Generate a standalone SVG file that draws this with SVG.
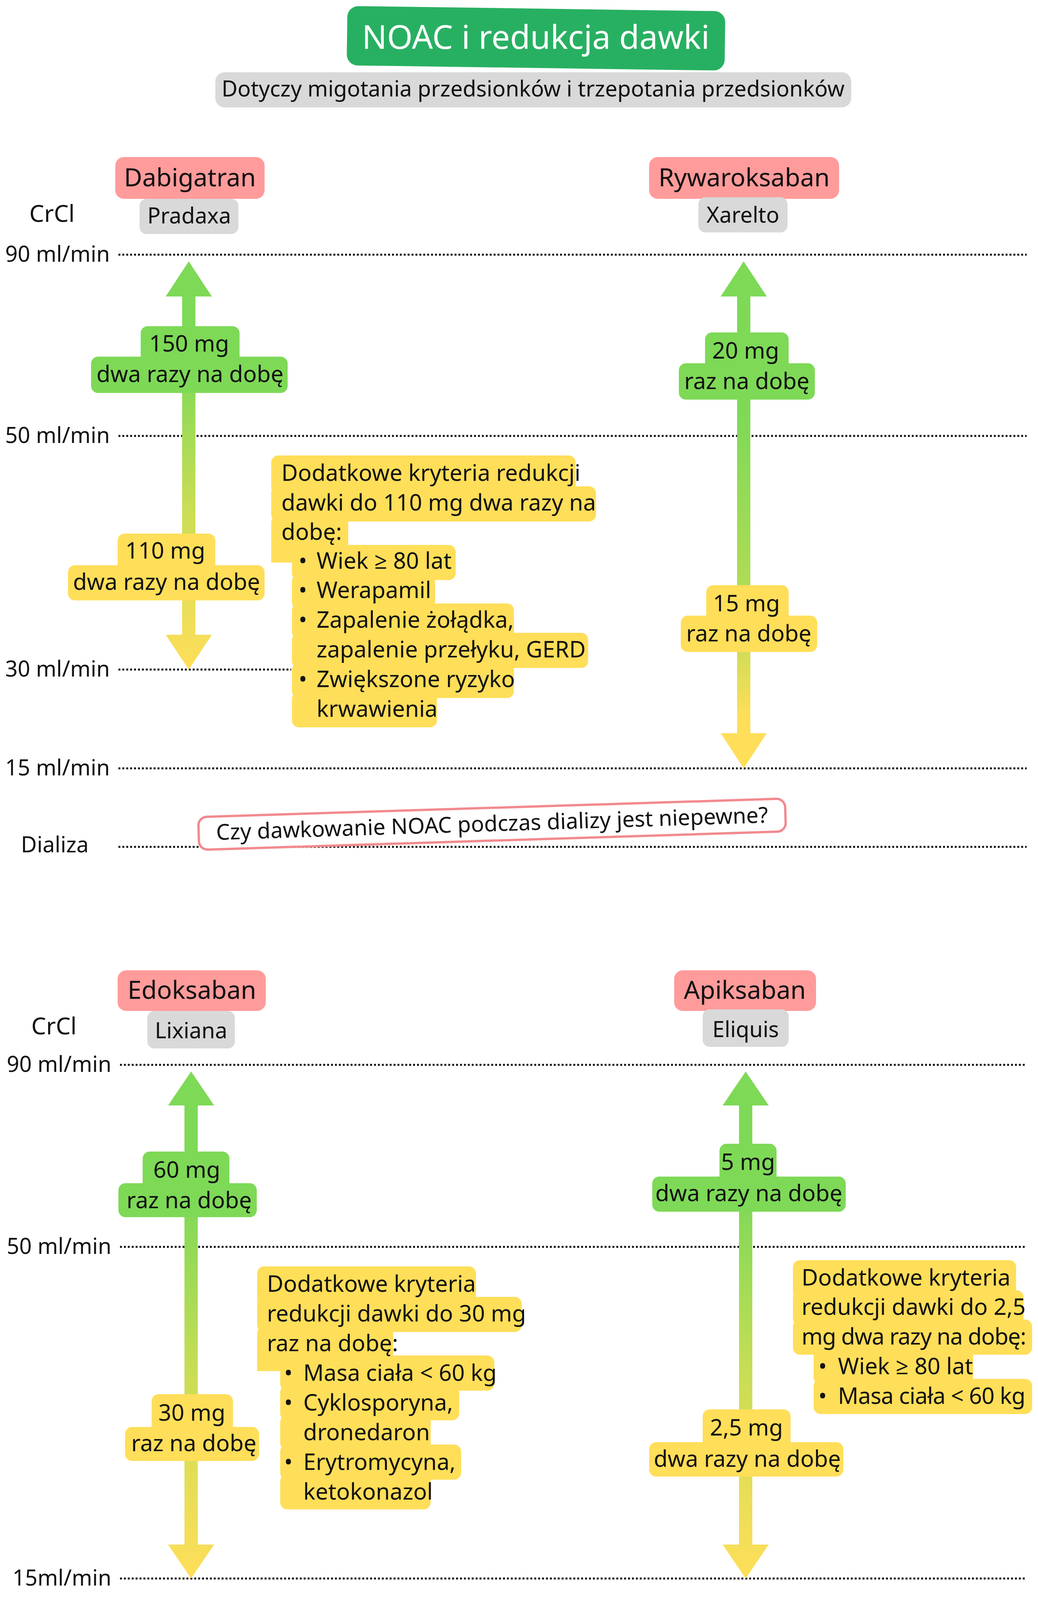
<svg xmlns="http://www.w3.org/2000/svg" width="2656" height="4375" viewBox="0 0 2656 4375">
<defs>
<style>
text{font-family:"Noto Sans","Open Sans",sans-serif;fill:#111}
.t{font-size:58px}
.lab{font-size:56px;text-anchor:end}
.c{text-anchor:middle}
.dot{stroke:#111;stroke-width:5;stroke-dasharray:5 5;fill:none}
.g{fill:#7ED957}.y{fill:#FFDE59}.p{fill:#FF9B9B}.gr{fill:#D9D9D9}
</style>
<linearGradient id="ar1" x1="0" y1="0" x2="0" y2="1"><stop offset="0.25" stop-color="#7ED957"/><stop offset="0.6" stop-color="#C9DD55"/><stop offset="1" stop-color="#FFDE59"/></linearGradient>
<linearGradient id="ar2" x1="0" y1="0" x2="0" y2="1"><stop offset="0.3" stop-color="#7ED957"/><stop offset="0.7" stop-color="#B8DC56"/><stop offset="0.9" stop-color="#FFDE59"/></linearGradient>
</defs>
<rect width="2656" height="4375" fill="#fff"/>
<g id="title"><rect x="888" y="22" width="967" height="152" rx="28" fill="#28B062" transform="rotate(0.8 1371 98)"/><text x="1371" y="125" class="c" style="font-size:84px;fill:#fff">NOAC i redukcja dawki</text></g>
<g id="subtitle"><rect x="551" y="185" width="1627" height="90" rx="24" class="gr"/><text x="1364" y="247" class="c" style="font-size:56px">Dotyczy migotania przedsionków i trzepotania przedsionków</text></g>
<g id="axes">
<path class="dot" d="M303 652H2627M303 1116H2627M303 1714H745M303 1967H2627M303 2168H2627M307 2726H2627M307 3192H2627M307 4041H2627M307 4233H2627"/>
<text x="75" y="568" style="font-size:60px">CrCl</text>
<text x="281" y="670" class="lab">90 ml/min</text><text x="281" y="1134" class="lab">50 ml/min</text><text x="281" y="1732" class="lab">30 ml/min</text><text x="281" y="1985" class="lab">15 ml/min</text><text x="227" y="2182" class="lab">Dializa</text>
<text x="80" y="2648" style="font-size:60px">CrCl</text>
<text x="285" y="2744" class="lab">90 ml/min</text><text x="285" y="3210" class="lab">50 ml/min</text><text x="285" y="4059" class="lab">15ml/min</text><text x="231" y="4250" class="lab">Dializa</text>
</g>
<g id="connectors">
<path fill="url(#ar1)" d="M483 669L542 759H500V1625H542L483 1714L424 1625H466V759H424Z"/>
<path fill="url(#ar2)" d="M1903 669L1962 759H1920V1877H1962L1903 1967L1844 1877H1886V759H1844Z"/>
<path fill="url(#ar1)" d="M489 2743L548 2830H506V3954H548L489 4041L430 3954H472V2830H430Z"/>
<path fill="url(#ar1)" d="M1908 2743L1967 2830H1925V3954H1967L1908 4041L1849 3954H1891V2830H1849Z"/>
</g>
<g id="dabigatran"><rect x="295" y="402" width="382" height="107" rx="22" class="p"/><text x="486" y="477" class="c" style="font-size:64px">Dabigatran</text>
<rect x="357" y="509" width="253" height="90" rx="18" class="gr"/><text x="484" y="572" class="c" style="font-size:56px">Pradaxa</text></g>
<g id="rywaroksaban"><rect x="1661" y="402" width="486" height="107" rx="22" class="p"/><text x="1904" y="477" class="c" style="font-size:64px">Rywaroksaban</text>
<rect x="1787" y="505" width="228" height="90" rx="18" class="gr"/><text x="1901" y="570" class="c" style="font-size:56px">Xarelto</text></g>
<g id="dab150"><rect x="360" y="835" width="253" height="100" rx="18" class="g"/><rect x="233" y="913" width="503" height="93" rx="18" class="g"/><text x="484" y="900" class="t c">150 mg</text><text x="486" y="978" class="t c">dwa razy na dobę</text></g>
<g id="dab110"><rect x="301" y="1366" width="250" height="100" rx="18" class="y"/><rect x="174" y="1447" width="503" height="90" rx="18" class="y"/><text x="423" y="1430" class="t c">110 mg</text><text x="426" y="1510" class="t c">dwa razy na dobę</text></g>
<g id="dabcrit" class="y">
<rect x="694" y="1166" width="779" height="100" rx="18"/><rect x="694" y="1245" width="831" height="90" rx="18"/><rect x="694" y="1320" width="197" height="90" rx="18"/>
<rect x="747" y="1395" width="419" height="90" rx="18"/><rect x="694" y="1380" width="120" height="60"/><rect x="747" y="1470" width="366" height="90" rx="18"/><rect x="747" y="1545" width="568" height="90" rx="18"/><rect x="747" y="1620" width="758" height="90" rx="18"/><rect x="747" y="1697" width="568" height="90" rx="18"/><rect x="747" y="1772" width="371" height="90" rx="18"/>
<text x="720" y="1231" class="t">Dodatkowe kryteria redukcji</text><text x="720" y="1307" class="t">dawki do 110 mg dwa razy na</text><text x="720" y="1382" class="t">dobę:</text>
<text x="764" y="1456" class="t">•</text><text x="810" y="1456" class="t">Wiek ≥ 80 lat</text>
<text x="764" y="1531" class="t">•</text><text x="810" y="1531" class="t">Werapamil</text>
<text x="764" y="1607" class="t">•</text><text x="810" y="1607" class="t">Zapalenie żołądka,</text>
<text x="810" y="1683" class="t">zapalenie przełyku, GERD</text>
<text x="764" y="1759" class="t">•</text><text x="810" y="1759" class="t">Zwiększone ryzyko</text>
<text x="810" y="1835" class="t">krwawienia</text></g>
<g id="ryw20"><rect x="1804" y="851" width="214" height="100" rx="18" class="g"/><rect x="1737" y="930" width="348" height="93" rx="18" class="g"/><text x="1908" y="918" class="t c">20 mg</text><text x="1911" y="996" class="t c">raz na dobę</text></g>
<g id="ryw15"><rect x="1807" y="1498" width="211" height="100" rx="18" class="y"/><rect x="1742" y="1576" width="349" height="93" rx="18" class="y"/><text x="1910" y="1565" class="t c">15 mg</text><text x="1916" y="1642" class="t c">raz na dobę</text></g>
<g id="dial1" transform="rotate(-1.8 1259 2108)"><rect x="508" y="2068" width="1502" height="84" rx="22" fill="#fff" stroke="#F28A8F" stroke-width="6"/><text x="1259" y="2128" class="c" style="font-size:56px">Czy dawkowanie NOAC podczas dializy jest niepewne?</text></g>
<g id="edoksaban"><rect x="301" y="2484" width="379" height="104" rx="22" class="p"/><text x="491" y="2557" class="c" style="font-size:64px">Edoksaban</text>
<rect x="377" y="2588" width="224" height="96" rx="18" class="gr"/><text x="489" y="2658" class="c" style="font-size:56px">Lixiana</text></g>
<g id="apiksaban"><rect x="1725" y="2484" width="363" height="104" rx="22" class="p"/><text x="1906" y="2557" class="c" style="font-size:64px">Apiksaban</text>
<rect x="1798" y="2584" width="220" height="96" rx="18" class="gr"/><text x="1908" y="2655" class="c" style="font-size:56px">Eliquis</text></g>
<g id="edo60"><rect x="365" y="2948" width="222" height="100" rx="18" class="g"/><rect x="303" y="3029" width="354" height="87" rx="18" class="g"/><text x="478" y="3015" class="t c">60 mg</text><text x="484" y="3093" class="t c">raz na dobę</text></g>
<g id="edo30"><rect x="388" y="3569" width="208" height="100" rx="18" class="y"/><rect x="320" y="3653" width="343" height="87" rx="18" class="y"/><text x="491" y="3637" class="t c">30 mg</text><text x="496" y="3715" class="t c">raz na dobę</text></g>
<g id="edocrit" class="y">
<rect x="658" y="3242" width="560" height="100" rx="18"/><rect x="658" y="3320" width="677" height="90" rx="18"/><rect x="658" y="3395" width="348" height="90" rx="18"/>
<rect x="717" y="3470" width="548" height="90" rx="18"/><rect x="658" y="3460" width="120" height="50"/><rect x="717" y="3546" width="458" height="90" rx="18"/><rect x="717" y="3622" width="385" height="90" rx="18"/><rect x="717" y="3698" width="463" height="90" rx="18"/><rect x="717" y="3774" width="385" height="90" rx="18"/>
<text x="683" y="3307" class="t">Dodatkowe kryteria</text><text x="683" y="3383" class="t">redukcji dawki do 30 mg</text><text x="683" y="3459" class="t">raz na dobę:</text>
<text x="727" y="3535" class="t">•</text><text x="776" y="3535" class="t">Masa ciała &lt; 60 kg</text>
<text x="727" y="3611" class="t">•</text><text x="776" y="3611" class="t">Cyklosporyna,</text>
<text x="776" y="3687" class="t">dronedaron</text>
<text x="727" y="3763" class="t">•</text><text x="776" y="3763" class="t">Erytromycyna,</text>
<text x="776" y="3839" class="t">ketokonazol</text></g>
<g id="api5"><rect x="1841" y="2928" width="146" height="100" rx="18" class="g"/><rect x="1669" y="3012" width="495" height="90" rx="18" class="g"/><text x="1914" y="2995" class="t c">5 mg</text><text x="1916" y="3075" class="t c">dwa razy na dobę</text></g>
<g id="api25"><rect x="1798" y="3608" width="225" height="100" rx="18" class="y"/><rect x="1661" y="3692" width="497" height="88" rx="18" class="y"/><text x="1910" y="3675" class="t c">2,5 mg</text><text x="1912" y="3755" class="t c">dwa razy na dobę</text></g>
<g id="apicrit" class="y">
<rect x="2029" y="3226" width="571" height="100" rx="18"/><rect x="2029" y="3303" width="590" height="90" rx="18"/><rect x="2029" y="3378" width="612" height="90" rx="18"/>
<rect x="2082" y="3454" width="408" height="90" rx="18"/><rect x="2082" y="3530" width="559" height="90" rx="18"/>
<text x="2051" y="3291" class="t">Dodatkowe kryteria</text><text x="2051" y="3366" class="t">redukcji dawki do 2,5</text><text x="2051" y="3442" class="t" textLength="575">mg dwa razy na dobę:</text>
<text x="2094" y="3518" class="t">•</text><text x="2144" y="3518" class="t">Wiek ≥ 80 lat</text>
<text x="2094" y="3594" class="t">•</text><text x="2144" y="3594" class="t" textLength="480">Masa ciała &lt; 60 kg</text></g>
<g id="dial2" transform="rotate(-1.8 1267 4183)"><rect x="516" y="4141" width="1502" height="84" rx="22" fill="#fff" stroke="#F28A8F" stroke-width="6"/><text x="1267" y="4202" class="c" style="font-size:56px">Czy dawkowanie NOAC podczas dializy jest niepewne?</text></g>
<text x="2622" y="4347" style="font-size:58px;text-anchor:end">Peter Blahut, MD</text>
</svg>
